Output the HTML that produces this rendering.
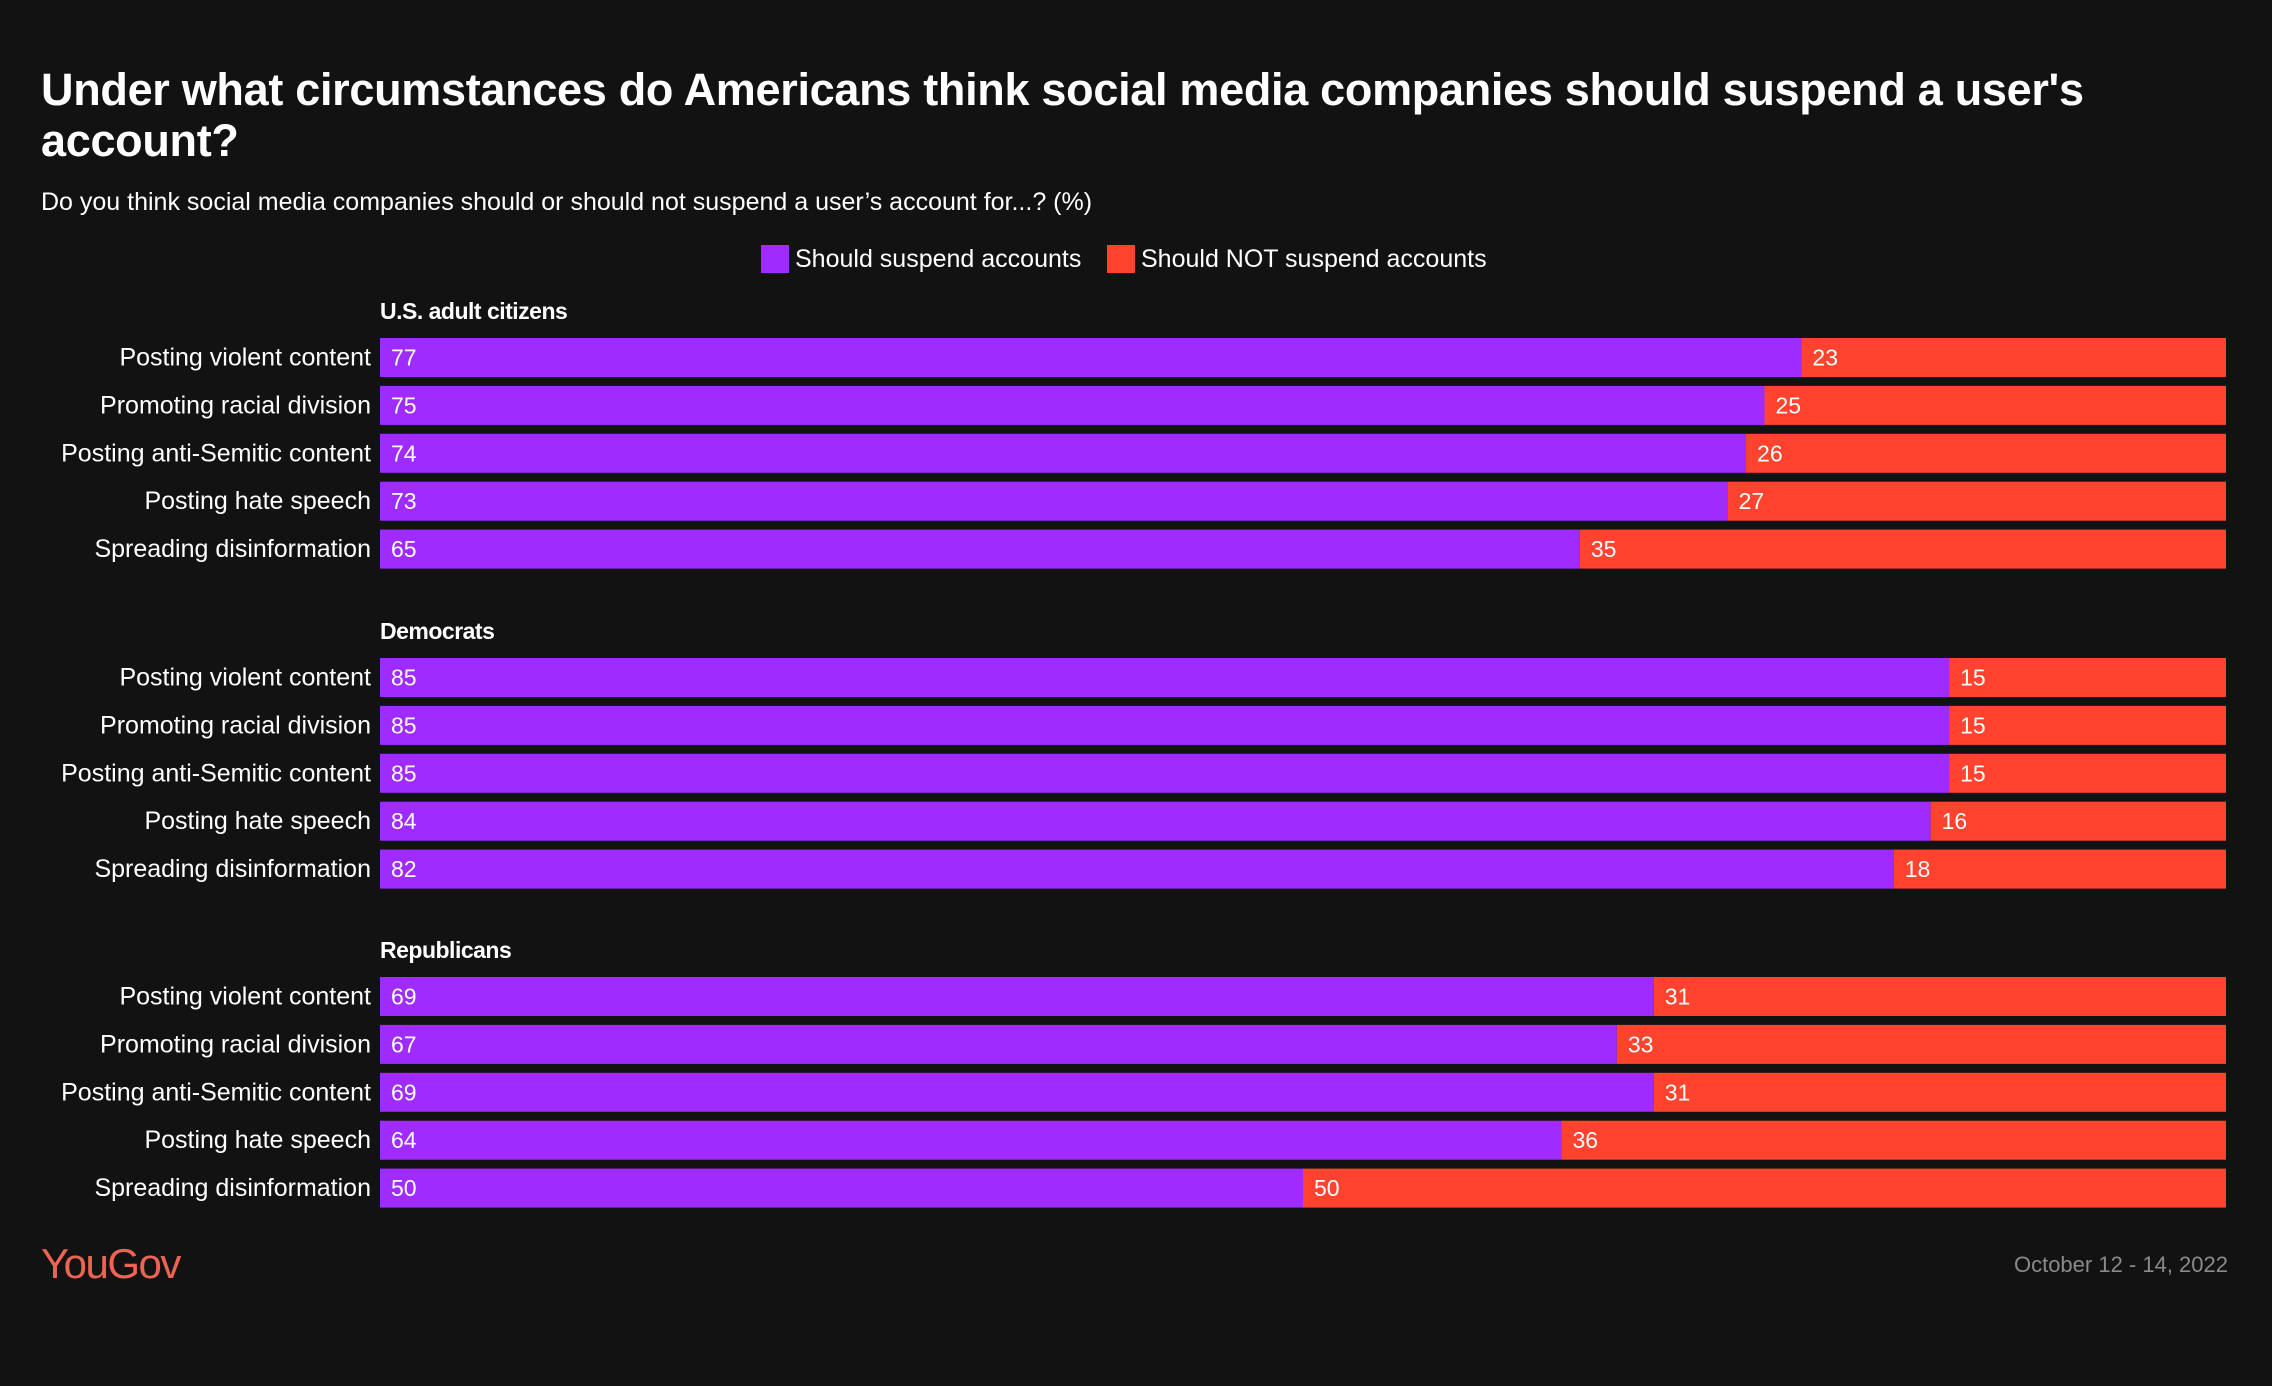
<!DOCTYPE html>
<html><head><meta charset="utf-8">
<style>
html,body{margin:0;padding:0;background:#121212;}
body{width:2272px;height:1386px;position:relative;overflow:hidden;font-family:"Liberation Sans",sans-serif;color:#fff;}
#title{position:absolute;left:41px;top:64px;font-size:45px;font-weight:bold;line-height:51px;white-space:nowrap;letter-spacing:-0.3px;}
#subtitle{position:absolute;left:41px;top:188px;font-size:25px;white-space:nowrap;}
svg{position:absolute;left:0;top:0;}
</style></head><body>
<div id="title">Under what circumstances do Americans think social media companies should suspend a user's<br>account?</div>
<div id="subtitle">Do you think social media companies should or should not suspend a user’s account for...? (%)</div>
<svg id="chart" width="2272" height="1386">
  <g>
    <rect x="761" y="245" width="28" height="28" fill="#a02bff"></rect>
    <text x="795" y="267" font-size="25" fill="#fff" font-family="Liberation Sans, sans-serif">Should suspend accounts</text>
    <rect x="1107" y="245" width="28" height="28" fill="#ff432e"></rect>
    <text x="1141" y="267" font-size="25" fill="#fff" font-family="Liberation Sans, sans-serif">Should NOT suspend accounts</text>
  </g>
  <text x="41" y="1278" font-size="42" fill="#ee6452" font-family="Liberation Sans, sans-serif" letter-spacing="-1.5">YouGov</text>
  <text x="2228" y="1272" font-size="22" fill="#8a8a8a" text-anchor="end" font-family="Liberation Sans, sans-serif">October 12 - 14, 2022</text>
</svg>
<script>
const groups = ["U.S. adult citizens", "Democrats", "Republicans"];
const categories = ["Posting violent content", "Promoting racial division", "Posting anti-Semitic content", "Posting hate speech", "Spreading disinformation"];
const suspendUS = [77, 75, 74, 73, 65];
const notSuspendUS = [23, 25, 26, 27, 35];
const suspendDem = [85, 85, 85, 84, 82];
const notSuspendDem = [15, 15, 15, 16, 18];
const suspendRep = [69, 67, 69, 64, 50];
const notSuspendRep = [31, 33, 31, 36, 50];

const svg = document.getElementById('chart');
const NS = 'http://www.w3.org/2000/svg';
const x0 = 380, x1 = 2226;
const groupTops = [338, 658, 977];
const pitch = 47.9, barH = 39;
function xScale(frac){ return x0 + frac * (x1 - x0); }
function mk(tag, attrs){ const e = document.createElementNS(NS, tag); for (const k in attrs) e.setAttribute(k, attrs[k]); return e; }
const seriesS = [suspendUS, suspendDem, suspendRep];
const seriesN = [notSuspendUS, notSuspendDem, notSuspendRep];
groups.forEach((g, gi) => {
  const top = groupTops[gi];
  const h = mk('text', {x: x0, y: top - 19, 'font-size': 23, 'font-weight': 'bold', fill: '#fff', 'font-family': 'Liberation Sans, sans-serif', 'letter-spacing': '-0.5'});
  h.textContent = g;
  
  
  svg.appendChild(h);
  categories.forEach((c, i) => {
    const y = top + i * pitch;
    const s = seriesS[gi][i], n = seriesN[gi][i];
    const tot = s + n;
    const xm = xScale(s / tot);
    const lab = mk('text', {x: 371, y: y + barH/2 + 8, 'font-size': 25, fill: '#fff', 'text-anchor': 'end', 'font-family': 'Liberation Sans, sans-serif'});
    lab.textContent = c;
    
    
    svg.appendChild(lab);
    const b1 = mk('rect', {x: x0, y: y, width: xm - x0, height: barH, fill: '#a02bff'});
    
    
    svg.appendChild(b1);
    const b2 = mk('rect', {x: xm, y: y, width: x1 - xm, height: barH, fill: '#ff432e'});
    
    
    svg.appendChild(b2);
    const t1 = mk('text', {x: x0 + 11, y: y + barH/2 + 8, 'font-size': 23, fill: '#fff', 'font-family': 'Liberation Sans, sans-serif'});
    t1.textContent = s;
    
    
    svg.appendChild(t1);
    const t2 = mk('text', {x: xm + 11, y: y + barH/2 + 8, 'font-size': 23, fill: '#fff', 'font-family': 'Liberation Sans, sans-serif'});
    t2.textContent = n;
    
    
    svg.appendChild(t2);
  });
});
</script>
</body></html>
